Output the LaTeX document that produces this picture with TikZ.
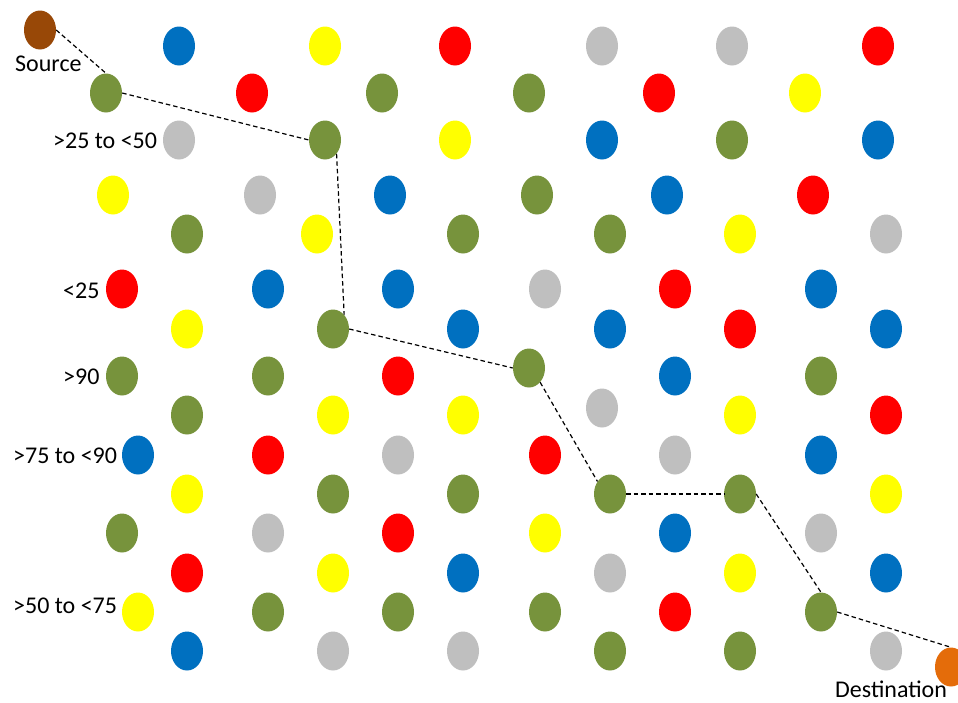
\documentclass[tikz,border=0pt]{standalone}
\usepackage{fontspec}
\setmainfont{Carlito}
\usetikzlibrary{shapes.geometric}
\definecolor{colB}{HTML}{0070C0}
\definecolor{colY}{HTML}{FFFF00}
\definecolor{colR}{HTML}{FF0000}
\definecolor{colS}{HTML}{BFBFBF}
\definecolor{colG}{HTML}{77933C}
\definecolor{colBr}{HTML}{984807}
\definecolor{colO}{HTML}{E46C0A}
\begin{document}
\begin{tikzpicture}[x=1pt,y=-1pt,
  dot/.style={ellipse,minimum width=32pt,minimum height=39pt,inner sep=0pt,draw=none},
  lbl/.style={anchor=base west,inner sep=0pt,font=\fontsize{24pt}{28pt}\selectfont},
  route/.style={draw=black,line width=1.2pt,dash pattern=on 4.5pt off 3pt}]
\useasboundingbox (0,0) rectangle (958,702);
\clip (0,0) rectangle (958,702);
\fill[white] (0,0) rectangle (958,702);
\foreach \x/\y/\c [count=\i] in {
  179/46/B, 325/46/Y, 455/46/R, 602/46/S, 732/46/S, 878/46/R,
  252/93/R, 382/93/G, 529/93/G, 659/93/R, 805/93/Y,
  179/140/S, 455/140/Y, 602/140/B, 732/140/G, 878/140/B,
  113/195/Y, 260/195/S, 390/195/B, 537/195/G, 667/195/B, 813/195/R,
  187/234/G, 317/234/Y, 463/234/G, 610/234/G, 740/234/Y, 886/234/S,
  122/289/R, 268/289/B, 398/289/B, 545/289/S, 675/289/R, 821/289/B,
  187/329/Y, 463/329/B, 610/329/B, 740/329/R, 886/329/B,
  122/376/G, 268/376/G, 398/376/R, 675/376/B, 821/376/G,
  187/415/G, 333/415/Y, 463/415/Y, 602/408/S, 740/415/Y, 886/415/R,
  138/455/B, 268/455/R, 398/455/S, 545/455/R, 675/455/S, 821/455/B,
  187/494/Y, 333/494/G, 463/494/G, 886/494/Y,
  122/533/G, 268/533/S, 398/533/R, 545/533/Y, 675/533/B, 821/533/S,
  187/573/R, 333/573/Y, 463/573/B, 610/573/S, 740/573/Y, 886/573/B,
  138/612/Y, 268/612/G, 398/612/G, 545/612/G, 675/612/R,
  187/651/B, 333/651/S, 463/651/S, 610/651/G, 740/651/G, 886/651/S}
  \node[dot,fill=col\c] (n\i) at (\x,\y) {};
\node[dot,fill=colBr] (src) at (40,30) {};
\node[dot,fill=colG] (g1) at (106,93) {};
\node[dot,fill=colG] (g2) at (325,140) {};
\node[dot,fill=colG] (g3) at (333,329) {};
\node[dot,fill=colG] (g4) at (529,368) {};
\node[dot,fill=colG] (g5) at (610,494) {};
\node[dot,fill=colG] (g6) at (740,494) {};
\node[dot,fill=colG] (g7) at (821,612) {};
\node[dot,fill=colO] (dst) at (951,667) {};
\draw[route] (src.east) -- (g1.north);
\draw[route] (g1.east) -- (g2.west);
\draw[route] (g2.-50) -- (g3.52);
\draw[route] (g3.east) -- (g4.west);
\draw[route] (g4.-52) -- (g5.135);
\draw[route] (g5.east) -- (g6.west);
\draw[route] (g6.east) -- (g7.north);
\draw[route] (g7.east) -- (dst.north);
\node[lbl] (tsrc) at (15,71) {Source};
\node[lbl] (t1) at (53,148) {>25 to <50};
\node[lbl] (t2) at (63,298) {<25};
\node[lbl] (t3) at (63,384) {>90};
\node[lbl] (t4) at (13,463) {>75 to <90};
\node[lbl] (t5) at (13,613) {>50 to <75};
\node[lbl] (tdst) at (835,697) {Destination};
\end{tikzpicture}
\end{document}
